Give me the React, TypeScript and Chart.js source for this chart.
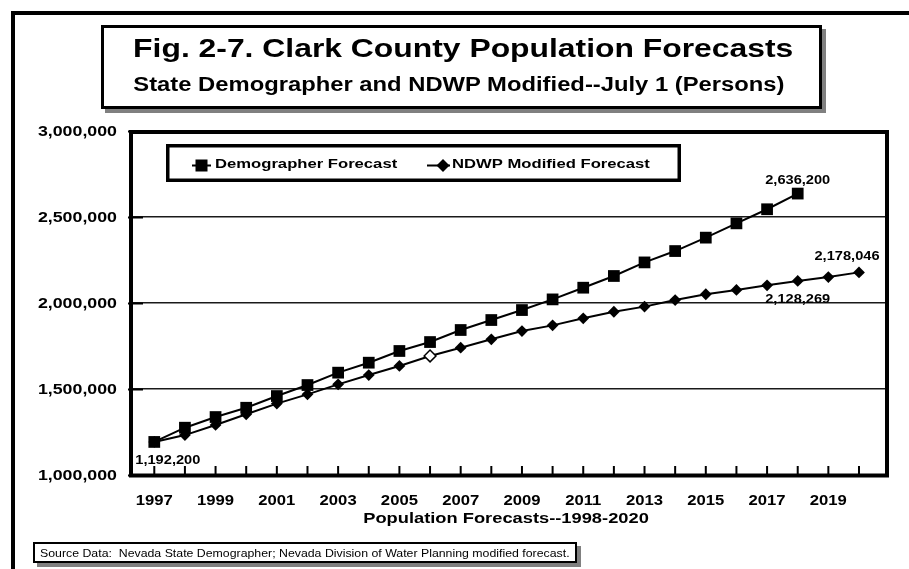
import React, { useEffect, useRef } from "react";
import { Chart, registerables } from "chart.js";

Chart.register(...registerables);

// July 1 population, Clark County (persons)
const years = [
  1997, 1998, 1999, 2000, 2001, 2002, 2003, 2004, 2005, 2006, 2007, 2008,
  2009, 2010, 2011, 2012, 2013, 2014, 2015, 2016, 2017, 2018, 2019, 2020,
];
// State Demographer series runs 1997-2018
const demographerForecast = [
  1192200, 1275000, 1337000, 1391000, 1459000, 1523000, 1595000, 1653000,
  1721000, 1773000, 1843000, 1901000, 1959000, 2021000, 2089000, 2157000,
  2236000, 2302000, 2380000, 2463000, 2545000, 2636200,
];
// NDWP modified series runs 1997-2020
const ndwpModifiedForecast = [
  1192200, 1232000, 1291000, 1353000, 1415000, 1469000, 1527000, 1581000,
  1634000, 1692000, 1740000, 1789000, 1837000, 1870000, 1911000, 1949000,
  1979000, 2017000, 2051000, 2076000, 2103000, 2128269, 2151000, 2178046,
];
const seriesNames = ["Demographer Forecast", "NDWP Modified Forecast"];
const labelledYears = [1997, 1999, 2001, 2003, 2005, 2007, 2009, 2011, 2013, 2015, 2017, 2019];
const yTickValues = [1000000, 1500000, 2000000, 2500000, 3000000];
const xAxisTitle = "Population Forecasts--1998-2020";
const chartTitle = "Fig. 2-7. Clark County Population Forecasts";
const chartSubtitle = "State Demographer and NDWP Modified--July 1 (Persons)";
const sourceNote =
  "Source Data:  Nevada State Demographer; Nevada Division of Water Planning modified forecast.";

const FONT = '"Liberation Sans", Arial, Helvetica, sans-serif';
const fmt = new Intl.NumberFormat("en-US");

function wideText(
  ctx: CanvasRenderingContext2D,
  text: string,
  x: number,
  y: number,
  align: CanvasTextAlign,
  font: string,
  sx: number
) {
  ctx.save();
  ctx.translate(x, y);
  ctx.scale(sx, 1);
  ctx.font = font;
  ctx.textAlign = align;
  ctx.textBaseline = "alphabetic";
  ctx.fillStyle = "#000";
  ctx.fillText(text, 0, 0);
  ctx.restore();
}

const decorations = {
  id: "decorations",
  afterDraw(chart: any) {
    const { ctx, chartArea: a } = chart;
    const xs = chart.scales.x;
    const ys = chart.scales.y;
    ctx.save();

    // plot frame
    ctx.strokeStyle = "#000";
    ctx.lineWidth = 4;
    ctx.strokeRect(a.left, a.top + 1, a.right - a.left, a.bottom + 0.5 - (a.top + 1));

    // value-axis tick marks crossing the left edge
    ctx.lineWidth = 2;
    ctx.beginPath();
    for (const t of ys.ticks) {
      const py = Math.round(ys.getPixelForValue(t.value)) + 0.5;
      ctx.moveTo(a.left - 3, py);
      ctx.lineTo(a.left + 12, py);
    }
    ctx.stroke();

    // year tick marks pointing into the plot
    ctx.beginPath();
    for (const t of xs.ticks) {
      const px = xs.getPixelForValue(t.value);
      ctx.moveTo(px, a.bottom - 9);
      ctx.lineTo(px, a.bottom);
    }
    ctx.stroke();

    // value-axis labels
    for (const t of ys.ticks) {
      const py = ys.getPixelForValue(t.value);
      wideText(ctx, fmt.format(t.value), a.left - 14, py + 5, "right", `bold 14px ${FONT}`, 1.27);
    }

    // year labels
    for (const t of xs.ticks) {
      if (!labelledYears.includes(t.value)) continue;
      const px = xs.getPixelForValue(t.value);
      wideText(ctx, String(t.value), px, a.bottom + 30, "center", `bold 14px ${FONT}`, 1.19);
    }

    // axis title
    wideText(ctx, xAxisTitle, 506, a.bottom + 48, "center", `bold 15.5px ${FONT}`, 1.18);

    // legend
    const L = { left: 166, top: 144, right: 681, bottom: 182 };
    ctx.fillStyle = "#fff";
    ctx.fillRect(L.left, L.top, L.right - L.left, L.bottom - L.top);
    ctx.lineWidth = 3.5;
    ctx.strokeStyle = "#000";
    ctx.strokeRect(L.left + 1.75, L.top + 1.75, L.right - L.left - 3.5, L.bottom - L.top - 3.5);
    const ly = 165.5;
    ctx.lineWidth = 2;
    ctx.beginPath();
    ctx.moveTo(192, ly);
    ctx.lineTo(211, ly);
    ctx.moveTo(427, ly);
    ctx.lineTo(450, ly);
    ctx.stroke();
    ctx.fillStyle = "#000";
    ctx.fillRect(201.5 - 6, ly - 6, 12, 12);
    ctx.beginPath();
    ctx.moveTo(443, ly - 6.5);
    ctx.lineTo(449.5, ly);
    ctx.lineTo(443, ly + 6.5);
    ctx.lineTo(436.5, ly);
    ctx.closePath();
    ctx.fill();
    const names = chart.data.datasets.map((d: any) => d.label);
    wideText(ctx, names[0], 215, 167.5, "left", `bold 13px ${FONT}`, 1.28);
    wideText(ctx, names[1], 452, 167.5, "left", `bold 13px ${FONT}`, 1.28);

    // value callouts
    const callouts = [
      { series: 0, year: 1997, dx: -19, dy: 22, align: "left" },
      { series: 0, year: 2018, dx: 0, dy: -10, align: "center" },
      { series: 1, year: 2020, dx: -12, dy: -12, align: "center" },
      { series: 1, year: 2018, dx: 0, dy: 22, align: "center" },
    ];
    for (const c of callouts) {
      const idx = years.indexOf(c.year);
      const el = chart.getDatasetMeta(c.series).data[idx];
      const value = chart.data.datasets[c.series].data[idx].y;
      wideText(ctx, fmt.format(value), el.x + c.dx, el.y + c.dy, c.align as CanvasTextAlign, `bold 12.5px ${FONT}`, 1.17);
    }

    ctx.restore();
  },
};

export default function App() {
  const canvasRef = useRef<HTMLCanvasElement>(null);

  useEffect(() => {
    const canvas = canvasRef.current;
    if (!canvas) return;
    const chart = new Chart(canvas, {
      type: "line",
      data: {
        datasets: [
          {
            label: seriesNames[0],
            data: demographerForecast.map((v, i) => ({ x: years[i], y: v })),
            borderColor: "#000",
            borderWidth: 2,
            pointStyle: "rect",
            pointRadius: 8.3,
            pointBackgroundColor: "#000",
            pointBorderWidth: 0,
            tension: 0,
          },
          {
            label: seriesNames[1],
            data: ndwpModifiedForecast.map((v, i) => ({ x: years[i], y: v })),
            borderColor: "#000",
            borderWidth: 2,
            pointStyle: "rectRot",
            pointRadius: 5.9,
            pointBackgroundColor: (c: any) => (years[c.dataIndex] === 2006 ? "#fff" : "#000"),
            pointBorderColor: "#000",
            pointBorderWidth: (c: any) => (years[c.dataIndex] === 2006 ? 1.5 : 0),
            tension: 0,
          },
        ],
      },
      options: {
        animation: false,
        responsive: false,
        events: [],
        layout: { padding: { top: 131, right: 22, left: 0, bottom: 0 } },
        plugins: { legend: { display: false }, tooltip: { enabled: false }, title: { display: false } },
        scales: {
          x: {
            type: "linear",
            min: 1996.24,
            max: 2020.914,
            grid: { display: false },
            border: { display: false },
            ticks: { display: false },
            afterBuildTicks: (s: any) => {
              s.ticks = years.map((v) => ({ value: v }));
            },
            afterFit: (s: any) => {
              s.height = 94;
            },
          },
          y: {
            type: "linear",
            min: 1000000,
            max: 3000000,
            grid: { color: "#1a1a1a", lineWidth: 1.5, drawTicks: false },
            border: { display: false },
            ticks: { display: false },
            afterBuildTicks: (s: any) => {
              s.ticks = yTickValues.map((v) => ({ value: v }));
            },
            afterFit: (s: any) => {
              s.width = 131;
            },
          },
        },
      },
      plugins: [decorations],
    } as any);
    return () => chart.destroy();
  }, []);

  return (
    <div
      style={{
        position: "absolute",
        left: 0,
        top: 0,
        width: 909,
        height: 569,
        overflow: "hidden",
        background: "#fff",
        fontFamily: FONT,
        color: "#000",
      }}
    >
      <canvas ref={canvasRef} width={909} height={569} style={{ position: "absolute", left: 0, top: 0 }} />
      {/* page frame */}
      <div
        style={{
          position: "absolute",
          left: 11,
          top: 11,
          width: 1000,
          height: 1000,
          borderTop: "4px solid #000",
          borderLeft: "4px solid #000",
        }}
      />
      {/* title panel */}
      <div
        style={{
          position: "absolute",
          left: 101,
          top: 25,
          width: 721,
          height: 84,
          boxSizing: "border-box",
          border: "3.5px solid #000",
          background: "#fff",
          boxShadow: "4px 4px 0 #808080",
        }}
      />
      <div
        style={{
          position: "absolute",
          left: 463 - 500,
          width: 1000,
          top: 36,
          textAlign: "center",
          fontWeight: "bold",
          fontSize: 25.7,
          lineHeight: 1,
          whiteSpace: "nowrap",
        }}
      >
        <span style={{ display: "inline-block", transform: "scaleX(1.24)", transformOrigin: "center" }}>
          {chartTitle}
        </span>
      </div>
      <div
        style={{
          position: "absolute",
          left: 459 - 500,
          width: 1000,
          top: 74.5,
          textAlign: "center",
          fontWeight: "bold",
          fontSize: 19.5,
          lineHeight: 1,
          whiteSpace: "nowrap",
        }}
      >
        <span style={{ display: "inline-block", transform: "scaleX(1.22)", transformOrigin: "center" }}>
          {chartSubtitle}
        </span>
      </div>
      {/* source note */}
      <div
        style={{
          position: "absolute",
          left: 33,
          top: 542,
          width: 544,
          height: 21,
          boxSizing: "border-box",
          border: "2px solid #000",
          background: "#fff",
          boxShadow: "4px 4px 0 #808080",
        }}
      />
      <div
        style={{
          position: "absolute",
          left: 40,
          top: 547.7,
          fontSize: 11,
          lineHeight: 1,
          whiteSpace: "pre",
        }}
      >
        <span style={{ display: "inline-block", transform: "scaleX(1.12)", transformOrigin: "left" }}>
          {sourceNote}
        </span>
      </div>
    </div>
  );
}
